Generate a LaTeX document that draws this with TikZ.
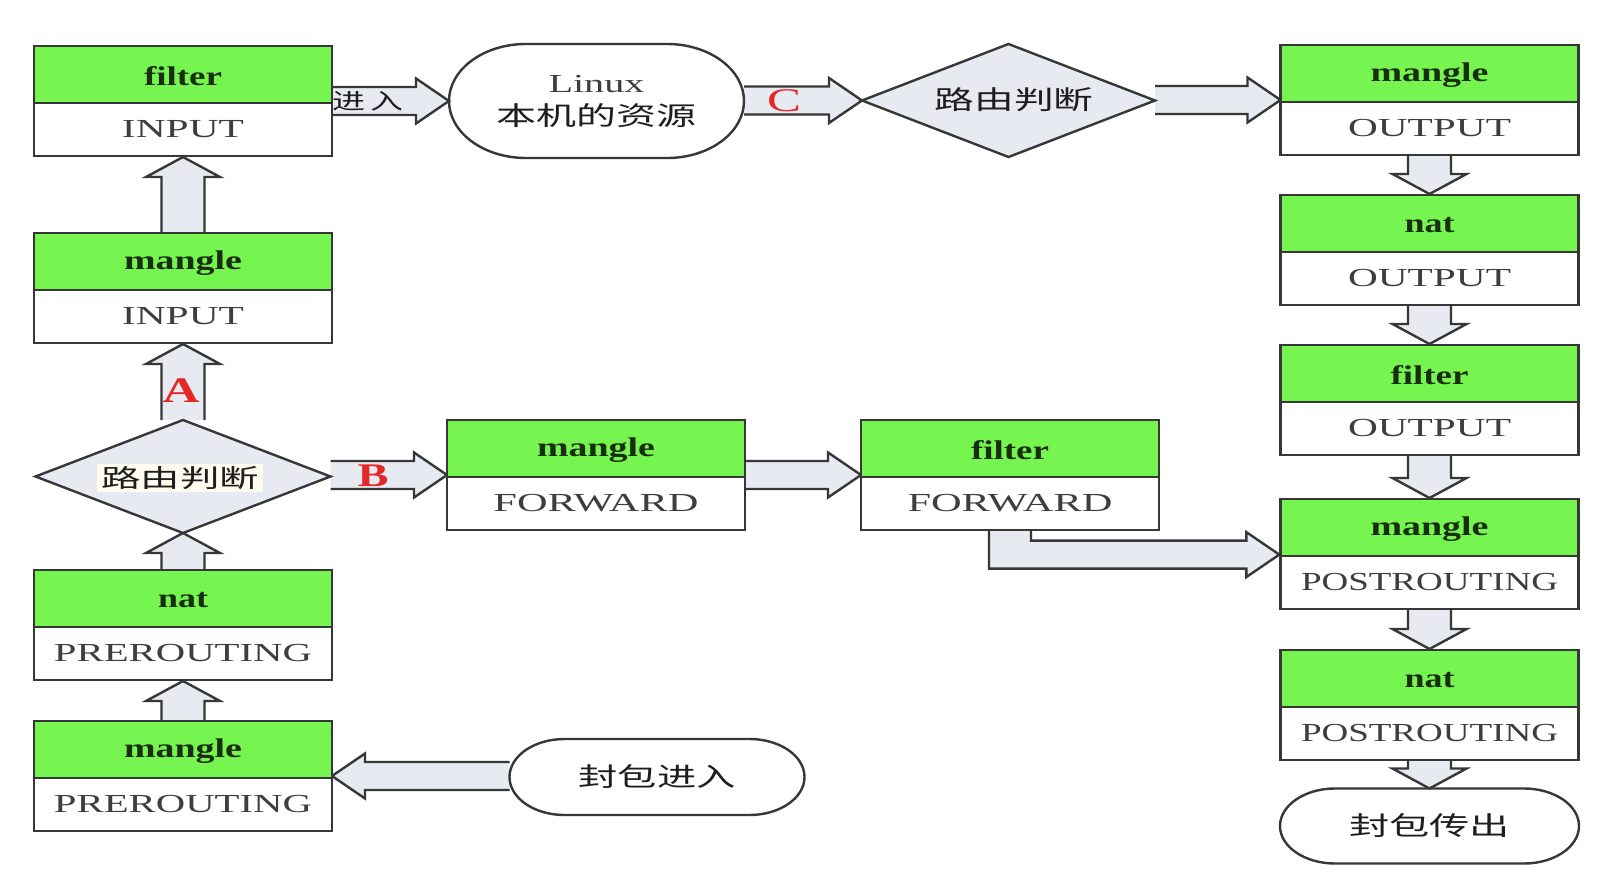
\documentclass[tikz,border=0pt]{standalone}
\usepackage{fontspec}
\usepackage{graphicx}
\setmainfont{Liberation Serif}
\newfontfamily\cjk{Noto Sans CJK SC}
\usetikzlibrary{shapes.geometric,calc,backgrounds}
\definecolor{boxgreen}{RGB}{118,245,80}
\definecolor{blkfill}{RGB}{232,234,241}
\definecolor{linecol}{RGB}{55,55,55}
\definecolor{greentext}{RGB}{25,45,15}
\definecolor{greytext}{RGB}{62,62,62}
\definecolor{cjkcol}{RGB}{30,30,30}
\definecolor{cream}{RGB}{253,252,238}
\definecolor{lblred}{RGB}{228,40,40}
\newcommand\fitw[2]{\resizebox{#1}{\height}{#2}}
\newcommand\tbl[5]{%
  \node[tblbox] (#1) at (#2,#3) {};
  \node[tbltop] (#1-t) at (#1.north) {#4};
  \node[tblbot] (#1-b) at (#1.south) {#5};}
\newcommand\blkup[2]{\filldraw[blk] let \p1=(#1),\p2=(#2) in (\x1-21.5pt,\y1) -- (\x1-21.5pt,\y2-20pt) -- (\x1-37pt,\y2-20pt) -- (\x1,\y2) -- (\x1+37pt,\y2-20pt) -- (\x1+21.5pt,\y2-20pt) -- (\x1+21.5pt,\y1);}
\newcommand\blkdown[2]{\filldraw[blk] let \p1=(#1),\p2=(#2) in (\x1-21.5pt,\y1) -- (\x1-21.5pt,\y2+20pt) -- (\x1-37pt,\y2+20pt) -- (\x1,\y2) -- (\x1+37pt,\y2+20pt) -- (\x1+21.5pt,\y2+20pt) -- (\x1+21.5pt,\y1);}
\newcommand\blkright[2]{\filldraw[blk] let \p1=(#1),\p2=(#2) in (\x1,\y2+14pt) -- (\x2-33pt,\y2+14pt) -- (\x2-33pt,\y2+22.5pt) -- (\x2,\y2) -- (\x2-33pt,\y2-22.5pt) -- (\x2-33pt,\y2-14pt) -- (\x1,\y2-14pt);}
\newcommand\blkleft[2]{\filldraw[blk] let \p1=(#1),\p2=(#2) in (\x1,\y2+14pt) -- (\x2+33pt,\y2+14pt) -- (\x2+33pt,\y2+22.5pt) -- (\x2,\y2) -- (\x2+33pt,\y2-22.5pt) -- (\x2+33pt,\y2-14pt) -- (\x1,\y2-14pt);}
\newcommand\termpath[3]{\draw[draw=linecol, line width=2.4pt] ([xshift=#2]#1.north west) -- ([xshift=-#2]#1.north east) arc[start angle=90, end angle=-90, x radius=#2, y radius=#3] -- ([xshift=#2]#1.south west) arc[start angle=270, end angle=90, x radius=#2, y radius=#3] -- cycle;}
\begin{document}
\begin{tikzpicture}[x=1pt, y=-1pt,
  tblbox/.style={minimum width=298pt, minimum height=112pt, inner sep=0pt, outer sep=0pt},
  tbltop/.style={draw=linecol, line width=2.4pt, fill=boxgreen, minimum width=298pt, minimum height=59pt, inner sep=0pt, anchor=north, text=greentext, font=\fontsize{27}{30}\selectfont\bfseries},
  tblbot/.style={draw=linecol, line width=2.4pt, fill=white, minimum width=298pt, minimum height=53pt, inner sep=0pt, anchor=south, text=greytext, font=\fontsize{26}{30}\selectfont},
  blk/.style={draw=linecol, line width=2.4pt, fill=blkfill},
  decision/.style={diamond, draw=linecol, line width=2.4pt, fill=blkfill, inner sep=0pt, outer sep=0pt, minimum width=295pt, minimum height=113pt},
  termnode/.style={rectangle, inner sep=0pt, outer sep=0pt, text=cjkcol},
  cjktext/.style={font=\cjk\fontsize{26}{30}\selectfont, text=cjkcol},
  redlbl/.style={text=lblred, inner sep=0pt}]
\begin{pgfonlayer}{background}
  \fill[white] (0,0) rectangle (1620,875);
\end{pgfonlayer}
\useasboundingbox (0,0) rectangle (1620,875);

% left column
\tbl{fi}{183}{101}{\fitw{78pt}{filter}}{\fitw{122pt}{INPUT}}
\tbl{mi}{183}{288}{\fitw{118pt}{mangle}}{\fitw{122pt}{INPUT}}
\node[decision] (dl) at (183,476.5) {};
\node[cjktext, fill=cream, inner sep=0pt, minimum width=166pt, minimum height=28pt, font=\cjk\fontsize{25}{28}\selectfont] (dltext) at (180,478) {\fitw{158pt}{路由判断}};
\tbl{np}{183}{625}{\fitw{50pt}{nat}}{\fitw{258pt}{PREROUTING}}
\tbl{mp}{183}{776}{\fitw{118pt}{mangle}}{\fitw{258pt}{PREROUTING}}

% middle
\node[termnode, minimum width=295pt, minimum height=114pt, align=center, font=\fontsize{26}{33}\selectfont] (lin) at (596.5,101) {\textcolor{greytext}{\fitw{96pt}{Linux}}\\{\cjk\fitw{200pt}{本机的资源}}};
\tbl{mf}{596}{475}{\fitw{118pt}{mangle}}{\fitw{205pt}{FORWARD}}
\node[decision, minimum width=293pt] (dt) at (1008.5,100.5) {};
\node[cjktext] (dttext) at (1014,100) {\fitw{159pt}{路由判断}};
\tbl{ff}{1010}{475}{\fitw{78pt}{filter}}{\fitw{205pt}{FORWARD}}
\node[termnode, minimum width=295pt, minimum height=76pt, cjktext] (ein) at (657,777) {\fitw{157pt}{封包进入}};

% right column
\tbl{mo}{1429.5}{100}{\fitw{118pt}{mangle}}{\fitw{163pt}{OUTPUT}}
\tbl{no}{1429.5}{250}{\fitw{50pt}{nat}}{\fitw{163pt}{OUTPUT}}
\tbl{fo}{1429.5}{400}{\fitw{78pt}{filter}}{\fitw{163pt}{OUTPUT}}
\tbl{mpo}{1429.5}{554}{\fitw{118pt}{mangle}}{\fitw{257pt}{POSTROUTING}}
\tbl{npo}{1429.5}{705}{\fitw{50pt}{nat}}{\fitw{257pt}{POSTROUTING}}
\node[termnode, minimum width=299pt, minimum height=75pt, cjktext] (eout) at (1429.5,826) {\fitw{161pt}{封包传出}};
\coordinate (mpoin) at (mpo-b.north west);

\termpath{lin}{77pt}{57pt}
\termpath{ein}{55pt}{38pt}
\termpath{eout}{55pt}{37.5pt}

\begin{pgfonlayer}{background}
  \blkup{mi.north}{fi.south}
  \blkup{dl.north}{mi.south}
  \blkup{np.north}{dl.south}
  \blkup{mp.north}{np.south}
  \blkright{fi.east}{lin.west}
  \blkright{lin.east}{dt.west}
  \blkright{dt.east}{mo.west}
  \blkdown{mo.south}{no.north}
  \blkdown{no.south}{fo.north}
  \blkdown{fo.south}{mpo.north}
  \blkdown{mpo.south}{npo.north}
  \blkdown{npo.south}{eout.north}
  \blkright{dl.east}{mf.west}
  \blkright{mf.east}{ff.west}
  \blkleft{ein.west}{mp.east}
  \filldraw[blk] let \p1=(ff.south),\p2=(mpoin) in (\x1-21pt,\y1) -- (\x1-21pt,\y2-14pt) -- (\x2-33pt,\y2-14pt) -- (\x2-33pt,\y2-22.5pt) -- (\x2,\y2) -- (\x2-33pt,\y2+22.5pt) -- (\x2-33pt,\y2+14pt) -- (\x1+21pt,\y2+14pt) -- (\x1+21pt,\y1);
\end{pgfonlayer}

% labels
\node[cjktext, font=\cjk\fontsize{22}{26}\selectfont, inner sep=0pt] (lblin) at (368,101) {\fitw{72pt}{进\hspace{4pt}入}};
\node[redlbl, font=\fontsize{36}{40}\selectfont\bfseries] (lblA) at (181,391) {\fitw{37pt}{A}};
\node[redlbl, font=\fontsize{33}{38}\selectfont\bfseries] (lblB) at (373,476) {\fitw{31pt}{B}};
\node[redlbl, font=\fontsize{33}{38}\selectfont] (lblC) at (784,101) {\fitw{34pt}{C}};
\end{tikzpicture}
\end{document}
